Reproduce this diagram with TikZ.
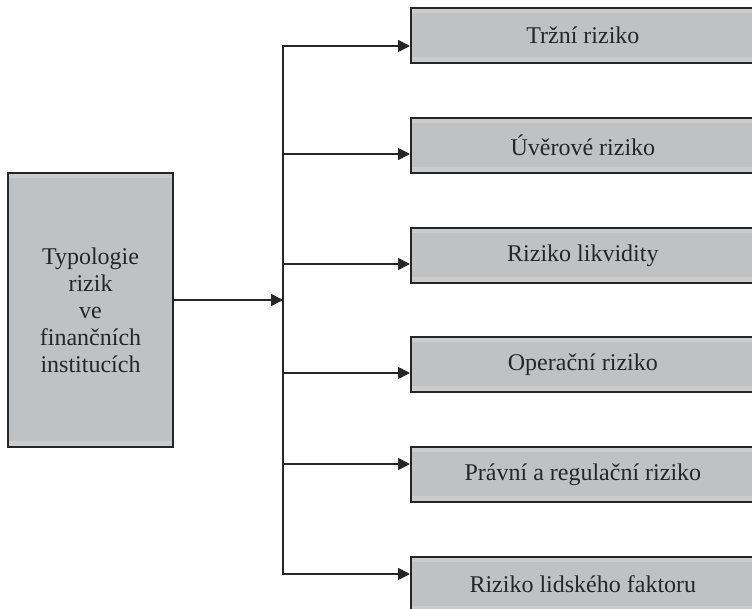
\documentclass[tikz,border=0pt]{standalone}
\usepackage{fontspec}
\setmainfont{Liberation Serif}
\usetikzlibrary{arrows.meta}
\definecolor{boxgray}{HTML}{C0C1C3}
\definecolor{boxlight}{HTML}{CBCCCE}
\definecolor{inkgray}{HTML}{262626}
\tikzset{
  riskbox/.style={draw=inkgray, line width=1.3pt, fill=boxgray, text=inkgray,
    font=\fontsize{18}{20.3}\selectfont, align=center, inner sep=0pt,
    path picture={
      \fill[boxlight] (path picture bounding box.north west) rectangle ([yshift=-4pt]path picture bounding box.north east);
      \fill[boxlight] (path picture bounding box.south west) rectangle ([yshift=4.5pt]path picture bounding box.south east);
    }},
  rightbox/.style={riskbox, anchor=west, minimum width=258pt, minimum height=41.25pt},
  link/.style={draw=inkgray, line width=1.3pt},
  arr/.style={link, -{Triangle[length=9pt,width=9pt]}}
}
\begin{document}
\begin{tikzpicture}[x=0.75pt, y=-0.75pt]
\useasboundingbox (0,0) rectangle (752,609);
\node[riskbox, minimum width=123.75pt, minimum height=205.5pt] (typ) at (90.5,310) {Typologie\\rizik\\ve\\finančních\\institucích};
\node[rightbox] (r1) at (410,35.5) {Tržní riziko};
\node[rightbox] (r2) at (410,145.5) {Úvěrové riziko};
\node[rightbox] (r3) at (410,255.5) {Riziko likvidity};
\node[rightbox] (r4) at (410,364.5) {Operační riziko};
\node[rightbox] (r5) at (410,474.5) {Právní a regulační riziko};
\node[rightbox] (r6) at (410,584.5) {Riziko lidského faktoru};
\coordinate (jm) at (283,300);
\coordinate (j1) at (283,46);
\coordinate (j2) at (283,154);
\coordinate (j3) at (283,264);
\coordinate (j4) at (283,373);
\coordinate (j5) at (283,464);
\coordinate (j6) at (283,574);
\draw[link, line cap=rect](j1) -- (j6);
\draw[arr](jm -| typ.east) -- (jm);
\draw[arr](j1) -- (j1 -| r1.west);
\draw[arr](j2) -- (j2 -| r2.west);
\draw[arr](j3) -- (j3 -| r3.west);
\draw[arr](j4) -- (j4 -| r4.west);
\draw[arr](j5) -- (j5 -| r5.west);
\draw[arr](j6) -- (j6 -| r6.west);
\end{tikzpicture}
\end{document}
